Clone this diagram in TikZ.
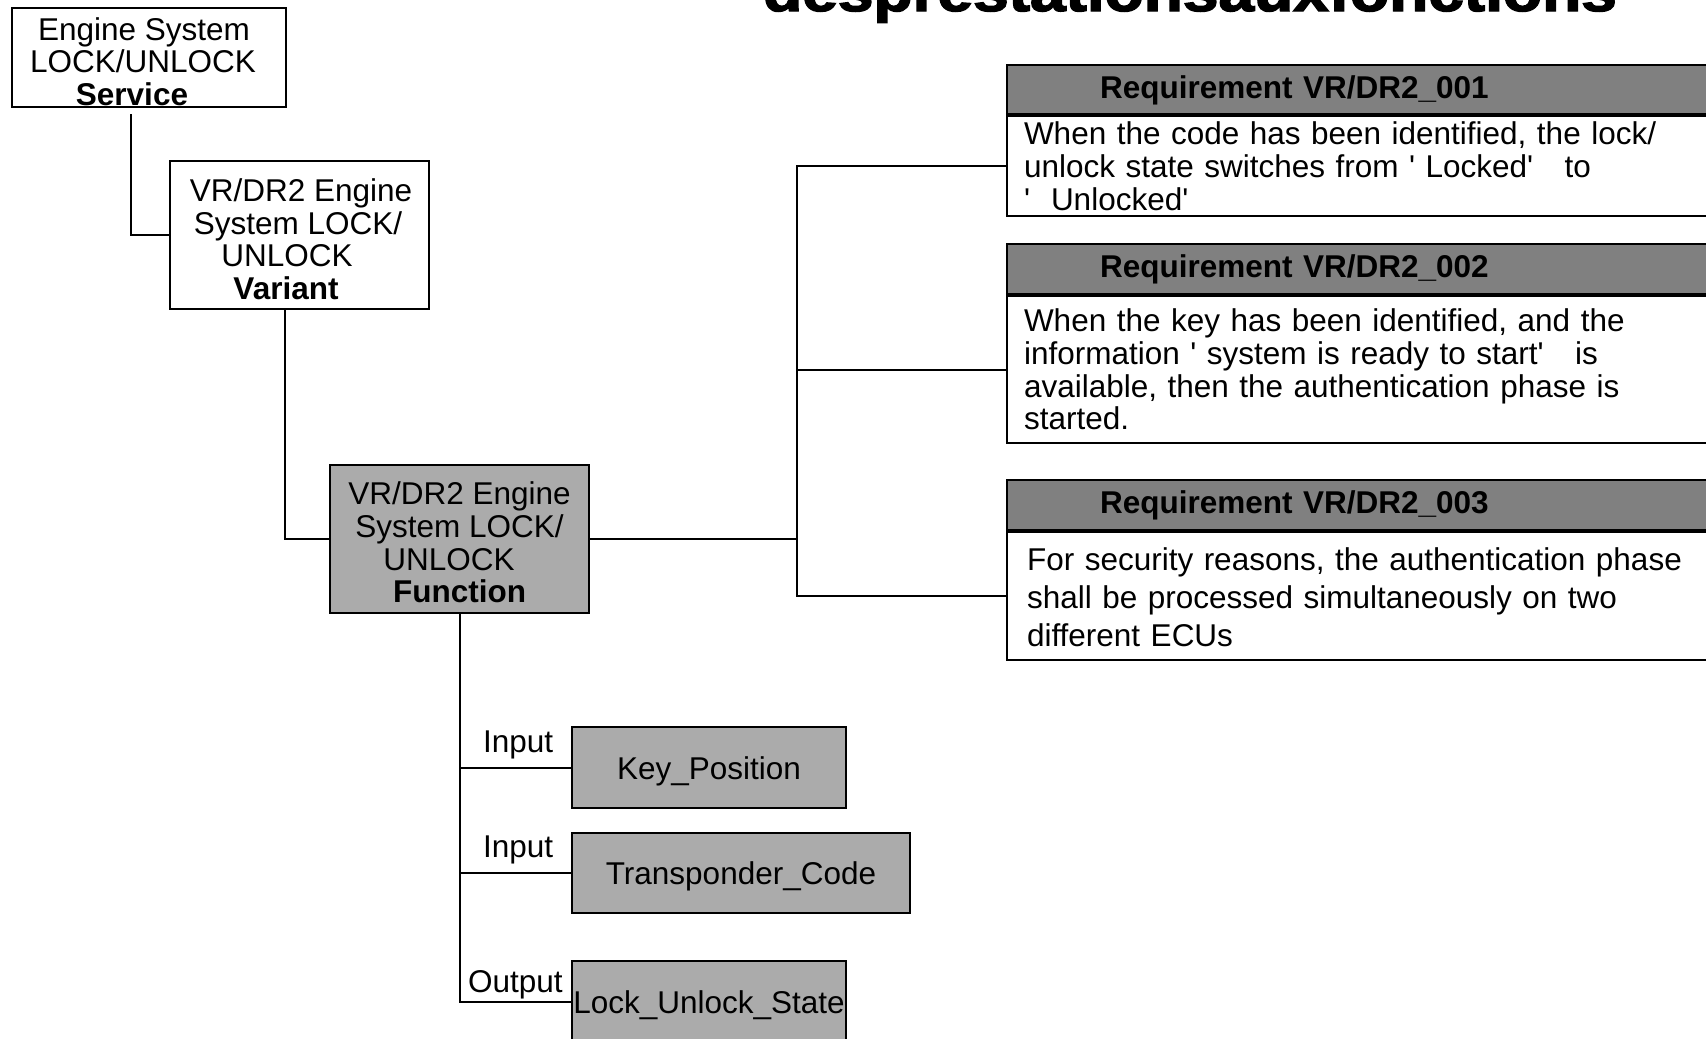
\documentclass[tikz,border=0pt]{standalone}
\usepackage{fontspec}
\usepackage{graphicx}
\setmainfont{Liberation Sans}
\newfontfamily\titlefont[FakeBold=2.5]{Liberation Sans}
\definecolor{boxgray}{HTML}{ABABAB}
\definecolor{hdrgray}{HTML}{808080}
\newcommand\padr[1]{\rule{#1}{0pt}}
\newcommand\q{\textquotesingle}
\begin{document}
\begin{tikzpicture}[x=1pt,y=-1pt,line width=2pt,
  every node/.style={font=\fontsize{31.5pt}{32.7pt}\selectfont, inner sep=0pt},
  box/.style={draw, rectangle, align=center, fill=white},
  gbox/.style={box, fill=boxgray},
  hdr/.style={draw, fill=hdrgray, anchor=north west, text width=700pt, inner xsep=93pt, inner ysep=0pt, align=left, font=\fontsize{31.5pt}{32.7pt}\selectfont\bfseries},
  body/.style={draw, fill=white, anchor=north west, text width=860pt, inner xsep=17pt, inner ysep=0pt, align=left},
  lbl/.style={anchor=base west}]
\useasboundingbox (0,0) rectangle (1706,1039);

% title (cut by the top edge)
\node[anchor=base] (title) at (1190,11) {\titlefont\bfseries\fontsize{56pt}{60pt}\selectfont\scalebox{1.143}[1]{desprestationsauxfonctions}};

% hierarchy boxes
\node[box, minimum width=274pt, minimum height=99pt] (svc) at (149,57.5)
  {\rule{0pt}{31.1pt}Engine System\padr{10pt}\\LOCK/UNLOCK\padr{12pt}\\\textbf{Service}\padr{34pt}};
\node[box, minimum width=259pt, minimum height=148pt] (var) at (299.5,235)
  {\rule{0pt}{31.5pt}\padr{3pt}VR/DR2 Engine\\System LOCK/\padr{3pt}\\UNLOCK\padr{25pt}\\\textbf{Variant}\padr{27pt}};
\node[gbox, minimum width=259pt, minimum height=148pt] (fn) at (459.5,539)
  {\rule{0pt}{30pt}VR/DR2 Engine\\System LOCK/\\UNLOCK\padr{21pt}\\\textbf{Function}};

% requirements
\node[hdr, minimum height=49pt] (r1h) at (1006,64) {Requirement VR/DR2\_001\rule{0pt}{24pt}};
\node[body, minimum height=99.7pt] (r1b) at (r1h.south west)
  {\rule{0pt}{24pt}When the code has been identified, the lock/\\unlock state switches from \q\ Locked\q\ \ \ to\\\q\ \ Unlocked\q};

\node[hdr, minimum height=50pt] (r2h) at (1006,243) {Requirement VR/DR2\_002\rule{0pt}{24pt}};
\node[body, minimum height=147pt] (r2b) at (r2h.south west)
  {When the key has been identified, and the\\information \q\ system is ready to start\q\ \ \ is\\available, then the authentication phase is\\started.};

\node[hdr, minimum height=50pt] (r3h) at (1006,479) {Requirement VR/DR2\_003\rule{0pt}{24pt}};
\node[body, minimum height=128pt, inner xsep=20pt, font=\fontsize{31.5pt}{38pt}\selectfont] (r3b) at (r3h.south west)
  {\rule{0pt}{24.5pt}For security reasons, the authentication phase\\shall be processed simultaneously on two\\different ECUs};

% data boxes
\node[gbox, minimum width=274pt, minimum height=81pt] (kp) at (709,767.5) {Key\_Position\rule{0pt}{29.6pt}};
\node[gbox, minimum width=338pt, minimum height=80pt] (tc) at (741,873) {Transponder\_Code\rule{0pt}{29.6pt}};
\node[gbox, minimum width=274pt, minimum height=81pt] (lus) at (709,1001.5) {Lock\_Unlock\_State\rule{0pt}{29.6pt}};

\node[lbl] (in1) at (482,752) {Input};
\node[lbl] (in2) at (482,857) {Input};
\node[lbl] (out) at (467,992) {Output};

% connectors
\draw ([xshift=120pt,yshift=-6pt]svc.south west) |- (var.west);
\draw ([xshift=116pt]var.south west) |- (fn.west);
\coordinate (bus) at (797,539);
\draw (fn.east) -- (bus);
\draw (r1b.west) -- (r1b.west -| bus) -- (r3b.west -| bus) -- (r3b.west);
\draw (r2b.west) -- (r2b.west -| bus);
\draw (fn.south) |- (lus.west);
\draw (kp.west) -- (kp.west -| fn.south);
\draw (tc.west) -- (tc.west -| fn.south);
\end{tikzpicture}
\end{document}
